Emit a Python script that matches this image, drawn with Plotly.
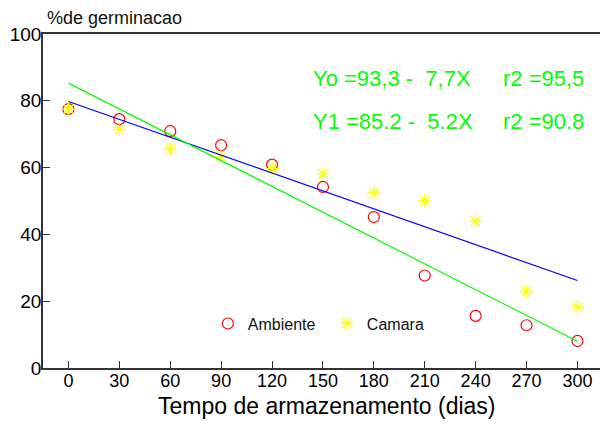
import plotly.graph_objects as go

days = [0, 30, 60, 90, 120, 150, 180, 210, 240, 270, 300]
ambiente = [77.5, 74.5, 70.9, 66.7, 60.9, 54.2, 45.2, 27.7, 15.6, 12.8, 8.1]
camara = [77.5, 71.4, 65.5, 63.2, 59.7, 58.2, 52.4, 50.0, 44.0, 22.9, 18.3]

fit_days = [0, 300]
fit_green = [85.3, 8.0]
fit_blue = [79.8, 26.2]

x_ticks = [0, 30, 60, 90, 120, 150, 180, 210, 240, 270, 300]
y_ticks = [0, 20, 40, 60, 80, 100]

eq_left = ["Yo =93,3 -  7,7X", "Y1 =85.2 -  5.2X"]
eq_right = ["r2 =95,5", "r2 =90.8"]

FONT = "Liberation Sans, Arial, sans-serif"
GREEN = "#00FF00"

fig = go.Figure()
fig.add_trace(go.Scatter(x=days, y=ambiente, mode="markers", name="Ambiente",
                         marker=dict(symbol="circle-open", size=11, color="#FF0000",
                                     line=dict(width=1.2, color="#FF0000"))))
fig.add_trace(go.Scatter(x=days, y=camara, mode="markers", name="Camara",
                         marker=dict(symbol="asterisk-open", size=11, color="#FFFF00",
                                     line=dict(width=1.3, color="#FFFF00"))))
fig.add_trace(go.Scatter(x=fit_days, y=fit_blue, mode="lines", showlegend=False,
                         line=dict(color="#0000FF", width=1.2)))
fig.add_trace(go.Scatter(x=fit_days, y=fit_green, mode="lines", showlegend=False,
                         line=dict(color=GREEN, width=1.2)))

for i, (l, r) in enumerate(zip(eq_left, eq_right)):
    yv = [86.7, 73.7][i]
    fig.add_annotation(x=143, y=yv, xref="x", yref="y", text=l, showarrow=False,
                       xanchor="left", yanchor="middle",
                       font=dict(family=FONT, size=22, color=GREEN))
    fig.add_annotation(x=255, y=yv, xref="x", yref="y", text=r, showarrow=False,
                       xanchor="left", yanchor="middle",
                       font=dict(family=FONT, size=22, color=GREEN))

fig.add_annotation(x=0.003, y=1.047, xref="paper", yref="paper", text="%de germinacao",
                   showarrow=False, xanchor="left", yanchor="middle",
                   font=dict(family=FONT, size=18, color="#111111"))
fig.add_annotation(x=0.509, y=-0.114, xref="paper", yref="paper",
                   text="Tempo de armazenamento (dias)", showarrow=False,
                   xanchor="center", yanchor="middle",
                   font=dict(family=FONT, size=23, color="#000000"))

fig.update_layout(
    width=600, height=424,
    margin=dict(l=43, r=0, t=34, b=56),
    paper_bgcolor="white", plot_bgcolor="white",
    font=dict(family=FONT, color="#000000"),
    showlegend=True,
    legend=dict(orientation="h", x=0.296, y=0.133, xanchor="left", yanchor="middle",
                entrywidth=74,
                bgcolor="rgba(0,0,0,0)", font=dict(family=FONT, size=16, color="#111111")),
    xaxis=dict(range=[-15, 313.3], tickvals=x_ticks, ticks="inside", ticklen=7,
               tickcolor="#333333", tickwidth=1, showline=True, linecolor="#333333",
               linewidth=1.5, mirror=True, showgrid=False, zeroline=False,
               automargin=False, ticklabelstandoff=-4,
               tickfont=dict(family=FONT, size=18, color="#000000")),
    yaxis=dict(range=[0, 100], tickvals=y_ticks, ticks="inside", ticklen=7,
               tickcolor="#333333", tickwidth=1, showline=True, linecolor="#333333",
               linewidth=1.5, showgrid=False, zeroline=False,
               automargin=False, ticklabelstandoff=-4,
               tickfont=dict(family=FONT, size=19, color="#000000")),
)

fig.write_html("out.html", config={"displayModeBar": False},
               post_script="document.body.style.margin='0px';document.body.style.overflow='hidden';")
